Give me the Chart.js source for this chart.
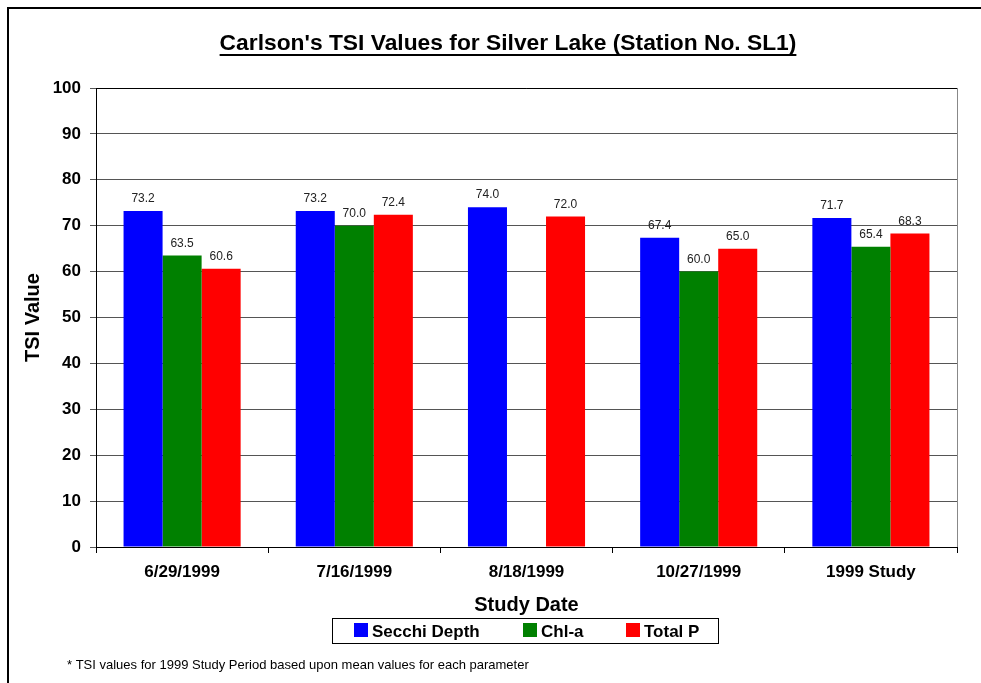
<!DOCTYPE html>
<html>
<head>
<meta charset="utf-8">
<script src="https://cdn.jsdelivr.net/npm/chart.js@4/dist/chart.umd.min.js"></script>
<style>
  html, body { margin: 0; padding: 0; background: #fff; }
  #wrap { width: 981px; height: 683px; position: relative; }
</style>
</head>
<body>
<div id="wrap"><canvas id="canvasChart"></canvas></div>
<script>
const studyDates = ['6/29/1999', '7/16/1999', '8/18/1999', '10/27/1999', '1999 Study']
const secchiDepth = [73.2, 73.2, 74.0, 67.4, 71.7]
const chlA = [63.5, 70.0, null, 60.0, 65.4]
const totalP = [60.6, 72.4, 72.0, 65.0, 68.3]
const yTicks = [0, 10, 20, 30, 40, 50, 60, 70, 80, 90, 100]

const FONT = "'Liberation Sans', Arial, sans-serif"
const chartTitle = "Carlson's TSI Values for Silver Lake (Station No. SL1)"
const footnote = '* TSI values for 1999 Study Period based upon mean values for each parameter'

// frame, title, value labels, boxed legend and footnote
const decorations = {
  id: 'decorations',
  afterDatasetsDraw(chart) {
    const ctx = chart.ctx
    ctx.save()
    ctx.font = `12px ${FONT}`
    ctx.fillStyle = '#222'
    ctx.textAlign = 'center'
    ctx.textBaseline = 'alphabetic'
    chart.data.datasets.forEach((ds, i) => {
      chart.getDatasetMeta(i).data.forEach((bar, j) => {
        const v = ds.data[j]
        if (v == null) return
        ctx.fillText(v.toFixed(1), bar.x, bar.y - 9)
      })
    })
    ctx.restore()
  },
  afterDraw(chart) {
    const ctx = chart.ctx
    const area = chart.chartArea
    ctx.save()

    // top edge and right edge of the plot area
    ctx.strokeStyle = '#000'
    ctx.lineWidth = 1
    ctx.beginPath()
    ctx.moveTo(area.left, area.top + 0.5)
    ctx.lineTo(area.right, area.top + 0.5)
    ctx.stroke()
    ctx.strokeStyle = '#888'
    ctx.beginPath()
    ctx.moveTo(area.right + 0.5, area.top)
    ctx.lineTo(area.right + 0.5, area.bottom)
    ctx.stroke()

    // outer frame
    ctx.strokeStyle = '#000'
    ctx.lineWidth = 2
    ctx.beginPath()
    ctx.moveTo(8, 690)
    ctx.lineTo(8, 8)
    ctx.lineTo(990, 8)
    ctx.stroke()

    // title, underlined
    ctx.fillStyle = '#000'
    ctx.font = `bold 22.8px ${FONT}`
    ctx.textAlign = 'center'
    ctx.textBaseline = 'alphabetic'
    const cx = 508
    ctx.fillText(chartTitle, cx, 50)
    const tw = ctx.measureText(chartTitle).width
    ctx.fillRect(cx - tw / 2, 54, tw, 2)

    // legend
    ctx.lineWidth = 1
    ctx.strokeRect(332.5, 618.5, 386, 25)
    const items = [354, 523, 626]
    ctx.font = `bold 17px ${FONT}`
    ctx.textAlign = 'left'
    ctx.textBaseline = 'middle'
    chart.data.datasets.forEach((ds, i) => {
      const x = items[i]
      ctx.fillStyle = ds.backgroundColor
      ctx.fillRect(x, 623, 14, 14)
      ctx.fillStyle = '#000'
      ctx.fillText(ds.label, x + 18, 632)
    })

    // footnote
    ctx.font = `13px ${FONT}`
    ctx.fillStyle = '#000'
    ctx.fillText(footnote, 67, 665)
    ctx.restore()
  },
}

new Chart(document.getElementById('canvasChart'), {
  type: 'bar',
  data: {
    labels: studyDates,
    datasets: [
      { label: 'Secchi Depth', data: secchiDepth, backgroundColor: '#0000ff' },
      { label: 'Chl-a', data: chlA, backgroundColor: '#008000' },
      { label: 'Total P', data: totalP, backgroundColor: '#ff0000' },
    ],
  },
  options: {
    responsive: true,
    maintainAspectRatio: false,
    animation: false,
    devicePixelRatio: 1,
    layout: { padding: { top: 88, right: 24, left: 21, bottom: 66 } },
    datasets: {
      bar: { categoryPercentage: 0.68, barPercentage: 1, borderWidth: 0, skipNull: false },
    },
    scales: {
      x: {
        afterFit: (scale) => { scale.height = 70 },
        grid: { drawOnChartArea: false, drawTicks: true, tickLength: 6, color: '#000', offset: true },
        border: { color: '#000', width: 1 },
        ticks: { color: '#000', font: { family: FONT, size: 17, weight: 'bold' }, padding: 9 },
        title: {
          display: true,
          text: 'Study Date',
          color: '#000',
          font: { family: FONT, size: 20, weight: 'bold' },
          padding: 0,
        },
      },
      y: {
        min: 0,
        max: 100,
        afterFit: (scale) => { scale.width = 75 },
        afterBuildTicks: (scale) => { scale.ticks = yTicks.map((v) => ({ value: v })) },
        grid: { color: '#555', tickLength: 6 },
        border: { color: '#000', width: 1 },
        ticks: { color: '#000', font: { family: FONT, size: 17, weight: 'bold' }, padding: 9 },
        title: {
          display: true,
          text: 'TSI Value',
          color: '#000',
          font: { family: FONT, size: 20, weight: 'bold' },
          padding: 0,
        },
      },
    },
    plugins: {
      legend: { display: false },
      tooltip: { enabled: false },
    },
  },
  plugins: [decorations],
})
</script>
</body>
</html>
